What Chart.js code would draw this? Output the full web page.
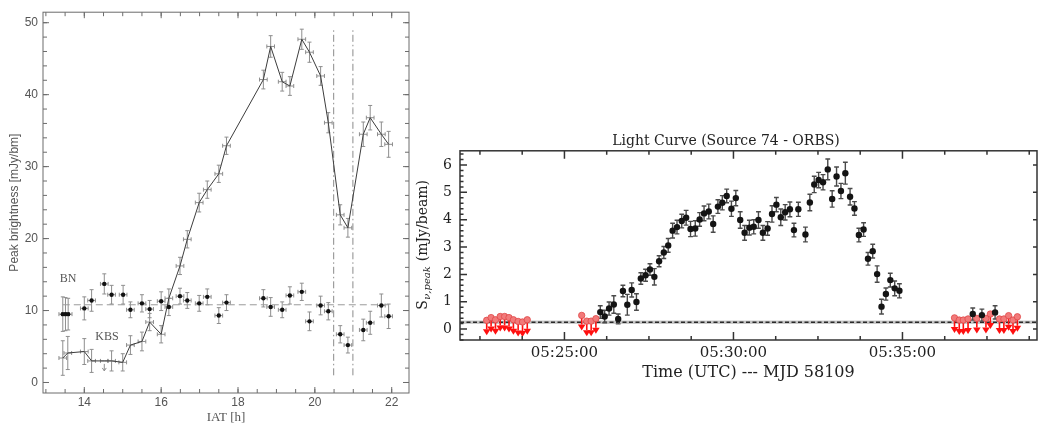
<!DOCTYPE html>
<html>
<head>
<meta charset="utf-8">
<title>Peak brightness and light curve</title>
<script src="https://cdn.jsdelivr.net/npm/chart.js@4.4.1/dist/chart.umd.min.js"></script>
<style>
    html, body { margin: 0; padding: 0; background: #fff; }
    #page { position: relative; width: 1038px; height: 427px; overflow: hidden; }
    .panel { position: absolute; top: 0; }
    #left-panel { left: 0; }
    #right-panel { left: 415px; }
</style>
</head>
<body>
<div id="page">
    <div class="panel" id="left-panel"><canvas id="brightness-chart" width="415" height="427"></canvas></div>
    <div class="panel" id="right-panel"><canvas id="light-curve" width="623" height="427"></canvas></div>
</div>
<script>
// ---------- Peak brightness vs IAT (hours) ----------
const hourTicks = [14, 16, 18, 20, 22];
const brightTicks = [0, 10, 20, 30, 40, 50];

// KBS: connected points
const kbsTimes = [13.44, 13.57, 14.00, 14.19, 14.52, 14.71, 15.00, 15.20, 15.50, 15.70,
    16.00, 16.20, 16.49, 16.68, 16.99, 17.20, 17.50, 17.70,
    18.66, 18.85, 19.15, 19.35, 19.66, 19.86, 20.15, 20.35, 20.66, 20.86,
    21.26, 21.44, 21.73, 21.92];
const kbsFlux = [3.4, 4.1, 4.3, 3.0, 3.0, 3.0, 2.8, 5.2, 5.7, 8.4,
    6.7, 11.7, 16.2, 19.9, 25.0, 26.8, 29.0, 32.9,
    42.1, 46.7, 41.8, 41.2, 47.7, 45.9, 42.6, 36.1, 23.3, 21.5,
    34.5, 36.8, 34.5, 33.1];
const kbsErr = [2.4, 2.3, 1.8, 1.6, 0, 1.4, 1.2, 1.3, 1.3, 1.2,
    1.2, 1.3, 1.2, 1.2, 1.3, 1.2, 1.2, 1.2,
    1.3, 1.5, 1.3, 1.3, 1.4, 1.4, 1.3, 1.4, 1.4, 1.3,
    1.7, 1.7, 1.7, 1.8];
const kbsUpper = [false, false, false, false, true, false, false, false, false, false,
    false, false, false, false, false, false, false, false,
    false, false, false, false, false, false, false, false, false, false,
    false, false, false, false];

// BN: dots around a constant level
const bnTimes = [13.44, 13.51, 13.58, 14.00, 14.19, 14.52, 14.71, 15.01, 15.20, 15.50,
    15.70, 16.00, 16.20, 16.49, 16.68, 16.99, 17.20, 17.50, 17.70,
    18.66, 18.85, 19.15, 19.35, 19.66, 19.86, 20.15, 20.35, 20.66, 20.86,
    21.26, 21.44, 21.73, 21.92];
const bnFlux = [9.5, 9.5, 9.5, 10.3, 11.4, 13.7, 12.2, 12.2, 10.1, 11.0,
    10.2, 11.3, 10.5, 12.0, 11.4, 11.0, 11.9, 9.3, 11.1,
    11.7, 10.5, 10.1, 12.1, 12.6, 8.5, 10.7, 9.9, 6.7, 5.2,
    7.3, 8.3, 10.7, 9.2];
const bnErr = [2.4, 2.3, 2.2, 1.6, 1.5, 1.4, 1.3, 1.3, 1.1, 1.2,
    1.2, 1.3, 1.2, 1.1, 1.1, 1.1, 1.1, 1.1, 1.1,
    1.2, 1.3, 1.1, 1.2, 1.2, 1.3, 1.3, 1.2, 1.2, 1.1,
    1.5, 1.6, 1.6, 1.7];
const bnMean = 10.8;

const timeErr = 0.1;              // half width of the time bins [h]
const flareMarks = [20.49, 20.99];
const flareSpan = [1, 49];

// ---------- Light curve, minutes after 05:00 UTC ----------
const minuteTicks = [25, 30, 35];
const fluxTicks = [0, 1, 2, 3, 4, 5, 6];

const detTimes = [26.06, 26.19, 26.32, 26.46, 26.59, 26.73, 26.86, 26.99, 27.13, 27.26, 27.40, 27.53, 27.66,
    27.80, 27.94, 28.07, 28.20, 28.33, 28.47, 28.60, 28.73, 28.87, 29.00, 29.13, 29.27, 29.40, 29.54, 29.67, 29.80, 29.94,
    30.07, 30.20, 30.33, 30.47, 30.60, 30.74, 30.87, 31.01, 31.14, 31.27, 31.40, 31.53, 31.67, 31.79, 31.92,
    32.13, 32.26, 32.39, 32.52, 32.65, 32.79, 32.92, 33.05, 33.18, 33.31, 33.45, 33.58, 33.71, 33.85, 33.98,
    34.12, 34.25, 34.38, 34.51, 34.64, 34.77, 34.91,
    37.08, 37.35, 37.74];
const detFlux = [0.62, 0.46, 0.75, 0.90, 0.37, 1.39, 0.89, 1.43, 0.99, 1.85, 1.97, 2.18, 1.91,
    2.48, 2.80, 3.06, 3.60, 3.73, 3.95, 4.07, 3.66, 3.68, 4.01, 4.23, 4.30, 3.84, 4.48, 4.62, 4.87, 4.40,
    4.79, 3.99, 3.52, 3.71, 3.74, 3.99, 3.52, 3.68, 4.21, 4.55, 4.09, 4.27, 4.38, 3.62, 4.38,
    3.46, 4.63, 5.29, 5.45, 5.37, 5.84, 4.76, 5.58, 5.05, 5.70, 4.84, 4.41, 3.44, 3.64, 2.57,
    2.85, 2.01, 0.82, 1.28, 1.79, 1.49, 1.40,
    0.55, 0.51, 0.61];
const detErr = [0.23, 0.23, 0.24, 0.32, 0.18, 0.21, 0.38, 0.26, 0.30, 0.21, 0.22, 0.21, 0.30,
    0.20, 0.22, 0.25, 0.27, 0.25, 0.25, 0.27, 0.28, 0.28, 0.25, 0.27, 0.27, 0.30, 0.25, 0.26, 0.25, 0.28,
    0.28, 0.30, 0.27, 0.27, 0.26, 0.30, 0.27, 0.25, 0.30, 0.26, 0.30, 0.28, 0.27, 0.25, 0.26,
    0.27, 0.30, 0.30, 0.28, 0.28, 0.38, 0.30, 0.35, 0.28, 0.40, 0.30, 0.25, 0.25, 0.25, 0.23,
    0.25, 0.30, 0.27, 0.22, 0.25, 0.27, 0.26,
    0.22, 0.22, 0.24];

// non-detections (upper limits)
const limTimes = [22.70, 22.83, 22.96, 23.10, 23.23, 23.36, 23.49, 23.63, 23.76, 23.90,
    25.51, 25.66, 25.79, 25.93,
    36.54, 36.68, 36.80, 36.94, 37.20, 37.47, 37.60, 37.87, 38.00, 38.14, 38.27, 38.40];
const limFlux = [0.32, 0.42, 0.34, 0.46, 0.46, 0.42, 0.34, 0.28, 0.26, 0.34,
    0.50, 0.29, 0.29, 0.38,
    0.41, 0.33, 0.33, 0.37, 0.39, 0.39, 0.55, 0.37, 0.37, 0.49, 0.33, 0.45];
const limArrow = 0.55;

const noiseLevel = 0.25;
const noiseBand = 0.06;

// ---------- helpers ----------
const pts = (xs, ys) => xs.map((x, i) => ({ x, y: ys[i] }));
const clock = m => '05:' + String(m).padStart(2, '0') + ':00';
const SANS = "'Liberation Sans', Arial, sans-serif";
const SERIF = "'Liberation Serif', 'Times New Roman', serif";
const DJSERIF = "'DejaVu Serif', serif";

// vertical / horizontal error bars, drawn under the markers
const errorBars = {
    id: 'errorBars',
    beforeDatasetsDraw(chart) {
        const { ctx, scales: { x, y } } = chart;
        chart.data.datasets.forEach(ds => {
            const eb = ds.errorBars;
            if (!eb) return;
            ctx.save();
            ctx.strokeStyle = eb.color;
            ctx.lineWidth = eb.width;
            ds.data.forEach((p, i) => {
                const px = x.getPixelForValue(p.x);
                const py = y.getPixelForValue(p.y);
                const dy = eb.y ? eb.y[i] : 0;
                ctx.beginPath();
                if (dy > 0) {
                    const top = y.getPixelForValue(p.y + dy);
                    const bot = y.getPixelForValue(p.y - dy);
                    ctx.moveTo(px, top); ctx.lineTo(px, bot);
                    ctx.moveTo(px - eb.cap, top); ctx.lineTo(px + eb.cap, top);
                    ctx.moveTo(px - eb.cap, bot); ctx.lineTo(px + eb.cap, bot);
                }
                if (eb.x) {
                    const l = x.getPixelForValue(p.x - eb.x);
                    const r = x.getPixelForValue(p.x + eb.x);
                    ctx.moveTo(l, py); ctx.lineTo(r, py);
                    ctx.moveTo(l, py - eb.cap); ctx.lineTo(l, py + eb.cap);
                    ctx.moveTo(r, py - eb.cap); ctx.lineTo(r, py + eb.cap);
                }
                if (eb.upper && eb.upper[i]) {
                    ctx.moveTo(px, py + 3); ctx.lineTo(px, py + 10);
                    ctx.moveTo(px - 2, py + 7); ctx.lineTo(px, py + 10); ctx.lineTo(px + 2, py + 7);
                }
                ctx.stroke();
            });
            ctx.restore();
        });
    }
};

// downward arrows for the non-detections
const upperLimits = {
    id: 'upperLimits',
    beforeDatasetsDraw(chart) {
        const { ctx, scales: { x, y } } = chart;
        chart.data.datasets.forEach(ds => {
            const ul = ds.upperLimit;
            if (!ul) return;
            ctx.save();
            ctx.strokeStyle = ul.color;
            ctx.fillStyle = ul.color;
            ctx.lineWidth = ul.width;
            ds.data.forEach(p => {
                const px = x.getPixelForValue(p.x);
                const top = y.getPixelForValue(p.y);
                const tip = y.getPixelForValue(p.y - ul.length);
                ctx.beginPath();
                ctx.moveTo(px, top);
                ctx.lineTo(px, tip - ul.headH);
                ctx.stroke();
                ctx.beginPath();
                ctx.moveTo(px - ul.headW, tip - ul.headH);
                ctx.lineTo(px + ul.headW, tip - ul.headH);
                ctx.lineTo(px, tip);
                ctx.closePath();
                ctx.fill();
            });
            ctx.restore();
        });
    }
};

// rms level with its shaded band
const noiseFloor = {
    id: 'noiseFloor',
    beforeDatasetsDraw(chart, args, o) {
        const { ctx, chartArea: a, scales: { y } } = chart;
        const top = y.getPixelForValue(o.value + o.band);
        const bot = y.getPixelForValue(o.value - o.band);
        const mid = y.getPixelForValue(o.value);
        ctx.save();
        ctx.fillStyle = o.bandColor;
        ctx.fillRect(a.left, top, a.right - a.left, bot - top);
        ctx.setLineDash([4, 2.5]);
        ctx.strokeStyle = o.lineColor;
        ctx.lineWidth = 1.3;
        ctx.beginPath();
        ctx.moveTo(a.left, mid);
        ctx.lineTo(a.right, mid);
        ctx.stroke();
        ctx.restore();
    }
};

// box around the plot area with inward ticks on every side
const frameTicks = {
    id: 'frameTicks',
    afterDraw(chart, args, o) {
        const { ctx, chartArea: a, scales: { x, y } } = chart;
        const steps = (scale, step) => {
            const out = [];
            for (let k = Math.ceil(scale.min / step - 1e-6); k * step <= scale.max + 1e-9; k++) out.push(k * step);
            return out;
        };
        const marks = (side, values, len) => {
            if (!len) return;
            values.forEach(v => {
                if (side === 'bottom' || side === 'top') {
                    const px = x.getPixelForValue(v);
                    const py = side === 'bottom' ? a.bottom : a.top;
                    ctx.moveTo(px, py);
                    ctx.lineTo(px, py + (side === 'bottom' ? -len : len));
                } else {
                    const py = y.getPixelForValue(v);
                    const px = side === 'left' ? a.left : a.right;
                    ctx.moveTo(px, py);
                    ctx.lineTo(px + (side === 'left' ? len : -len), py);
                }
            });
        };
        const xMajor = x.ticks.map(t => t.value);
        const yMajor = y.ticks.map(t => t.value);
        const xMinor = steps(x, o.xMinor);
        const yMinor = steps(y, o.yMinor);
        ctx.save();
        ctx.strokeStyle = o.color;
        ctx.lineWidth = o.width;
        ctx.strokeRect(a.left, a.top, a.right - a.left, a.bottom - a.top);
        ctx.beginPath();
        ['bottom', 'top'].forEach(s => { marks(s, xMinor, o.lengths[s][1]); marks(s, xMajor, o.lengths[s][0]); });
        ['left', 'right'].forEach(s => { marks(s, yMinor, o.lengths[s][1]); marks(s, yMajor, o.lengths[s][0]); });
        ctx.stroke();
        ctx.restore();
    }
};

// source names written inside the plot
const sourceLabels = {
    id: 'sourceLabels',
    afterDatasetsDraw(chart, args, o) {
        const { ctx, scales: { x, y } } = chart;
        ctx.save();
        ctx.fillStyle = o.color;
        ctx.font = o.font;
        ctx.textAlign = 'center';
        ctx.textBaseline = 'middle';
        o.items.forEach(it => ctx.fillText(it.text, x.getPixelForValue(it.x), y.getPixelForValue(it.y)));
        ctx.restore();
    }
};

// y title with a subscript: S_{nu,peak} (mJy/beam)
const fluxTitle = {
    id: 'fluxTitle',
    afterDraw(chart) {
        const { ctx, chartArea: a } = chart;
        const main = '14px ' + DJSERIF;
        const sub = 'italic 10px ' + DJSERIF;
        ctx.save();
        ctx.translate(8, (a.top + a.bottom) / 2);
        ctx.rotate(-Math.PI / 2);
        ctx.fillStyle = '#222';
        ctx.textAlign = 'left';
        ctx.textBaseline = 'middle';
        ctx.font = main;
        const wS = ctx.measureText('S').width;
        const wRest = ctx.measureText(' (mJy/beam)').width;
        ctx.font = sub;
        const wSub = ctx.measureText('ν,peak').width;
        const x0 = -(wS + wSub + wRest) / 2;
        ctx.font = main;
        ctx.fillText('S', x0, 0);
        ctx.font = sub;
        ctx.fillText('ν,peak', x0 + wS + 0.5, 4);
        ctx.font = main;
        ctx.fillText(' (mJy/beam)', x0 + wS + wSub + 1, 0);
        ctx.restore();
    }
};

// ---------- left panel ----------
new Chart(document.getElementById('brightness-chart'), {
    type: 'scatter',
    data: {
        datasets: [
            {
                label: 'BN',
                data: pts(bnTimes, bnFlux),
                pointRadius: 2.2,
                pointBackgroundColor: '#111',
                pointBorderWidth: 0,
                errorBars: { y: bnErr, x: timeErr, cap: 2, color: '#8e8e8e', width: 1 },
                order: 0
            },
            {
                label: 'KBS',
                data: pts(kbsTimes, kbsFlux),
                showLine: true,
                borderColor: '#3c3c3c',
                borderWidth: 1,
                pointRadius: 0,
                errorBars: { y: kbsErr, x: timeErr, cap: 2, color: '#8e8e8e', width: 1, upper: kbsUpper },
                order: 1
            },
            {
                label: 'BN mean',
                data: [{ x: bnTimes[0], y: bnMean }, { x: bnTimes[bnTimes.length - 1] + timeErr, y: bnMean }],
                showLine: true,
                borderColor: '#9a9a9a',
                borderWidth: 1,
                borderDash: [7, 4],
                pointRadius: 0,
                order: 2
            },
            ...flareMarks.map(t => ({
                label: 'flare ' + t,
                data: [{ x: t, y: flareSpan[0] }, { x: t, y: flareSpan[1] }],
                showLine: true,
                borderColor: '#8a8a8a',
                borderWidth: 1,
                borderDash: [7, 3, 1.5, 3],
                pointRadius: 0,
                order: 3
            }))
        ]
    },
    options: {
        responsive: false,
        animation: false,
        layout: { autoPadding: false, padding: { left: 0, right: 6, top: 4, bottom: 0 } },
        plugins: {
            legend: { display: false },
            tooltip: { enabled: false },
            frameTicks: {
                color: '#6c6c6c', width: 1, xMinor: 0.5, yMinor: 2,
                lengths: { bottom: [6, 4], top: [6, 4], left: [6, 4], right: [6, 4] }
            },
            sourceLabels: {
                color: '#555', font: '12px ' + SERIF,
                items: [{ text: 'BN', x: 13.58, y: 14.4 }, { text: 'KBS', x: 14.59, y: 6.3 }]
            }
        },
        scales: {
            x: {
                type: 'linear', min: 12.925, max: 22.45,
                afterBuildTicks: s => { s.ticks = hourTicks.map(value => ({ value })); },
                afterFit: s => { s.height = 34; },
                grid: { display: false, drawTicks: false },
                border: { display: false },
                ticks: { autoSkip: false, maxRotation: 0, padding: 2, color: '#555', font: { family: SANS, size: 12 } },
                title: { display: true, text: 'IAT [h]', color: '#555', font: { family: SERIF, size: 13 }, padding: { top: 0, bottom: 2 } }
            },
            y: {
                type: 'linear', min: -1.46, max: 51.46,
                afterBuildTicks: s => { s.ticks = brightTicks.map(value => ({ value })); },
                afterFit: s => { s.width = 43; },
                grid: { display: false, drawTicks: false },
                border: { display: false },
                ticks: { autoSkip: false, padding: 5, color: '#555', font: { family: SANS, size: 12 } },
                title: { display: true, text: 'Peak brightness [mJy/bm]', color: '#555', font: { family: SANS, size: 12 }, padding: { top: 7, bottom: 0 } }
            }
        }
    },
    plugins: [errorBars, frameTicks, sourceLabels]
});

// ---------- right panel ----------
new Chart(document.getElementById('light-curve'), {
    type: 'scatter',
    data: {
        datasets: [
            {
                label: 'detections',
                data: pts(detTimes, detFlux),
                pointRadius: 3.2,
                pointBackgroundColor: '#141414',
                pointBorderWidth: 0,
                errorBars: { y: detErr, cap: 2.4, color: '#4a4a4a', width: 1.4 },
                order: 0
            },
            {
                label: 'upper limits',
                data: pts(limTimes, limFlux),
                pointRadius: 3.2,
                pointBackgroundColor: '#f27a7a',
                pointBorderColor: '#e04848',
                pointBorderWidth: 0.8,
                upperLimit: { length: limArrow, color: '#ff1010', width: 1.6, headW: 3.8, headH: 6 },
                order: 1
            }
        ]
    },
    options: {
        responsive: false,
        animation: false,
        layout: { autoPadding: false, padding: { left: 0, right: 1, top: 133, bottom: 45 } },
        plugins: {
            legend: { display: false },
            tooltip: { enabled: false },
            title: {
                display: true,
                text: 'Light Curve (Source 74 - ORBS)',
                color: '#222',
                font: { family: DJSERIF, size: 14, weight: 'normal' },
                padding: { top: 0, bottom: 1 }
            },
            noiseFloor: { value: noiseLevel, band: noiseBand, bandColor: '#c4c4c4', lineColor: '#2a2a2a' },
            frameTicks: {
                color: '#333', width: 1.5, xMinor: 1.25, yMinor: 0.2,
                lengths: { bottom: [8, 4], top: [8, 4], left: [7, 3.5], right: [4, 0] }
            }
        },
        scales: {
            x: {
                type: 'linear', min: 21.91, max: 38.98,
                afterBuildTicks: s => { s.ticks = minuteTicks.map(value => ({ value })); },
                afterFit: s => { s.height = 42; },
                grid: { display: false, drawTicks: false },
                border: { display: false },
                ticks: { autoSkip: false, maxRotation: 0, padding: 4, color: '#222', font: { family: DJSERIF, size: 15 }, callback: v => clock(v) },
                title: { display: true, text: 'Time (UTC) --- MJD 58109', color: '#222', font: { family: DJSERIF, size: 16 }, padding: { top: 0, bottom: 0 } }
            },
            y: {
                type: 'linear', min: -0.40, max: 6.52,
                afterBuildTicks: s => { s.ticks = fluxTicks.map(value => ({ value })); },
                afterFit: s => { s.width = 45; },
                grid: { display: false, drawTicks: false },
                border: { display: false },
                ticks: { autoSkip: false, padding: 8, color: '#222', font: { family: DJSERIF, size: 14 } }
            }
        }
    },
    plugins: [noiseFloor, errorBars, upperLimits, frameTicks, fluxTitle]
});
</script>
</body>
</html>
